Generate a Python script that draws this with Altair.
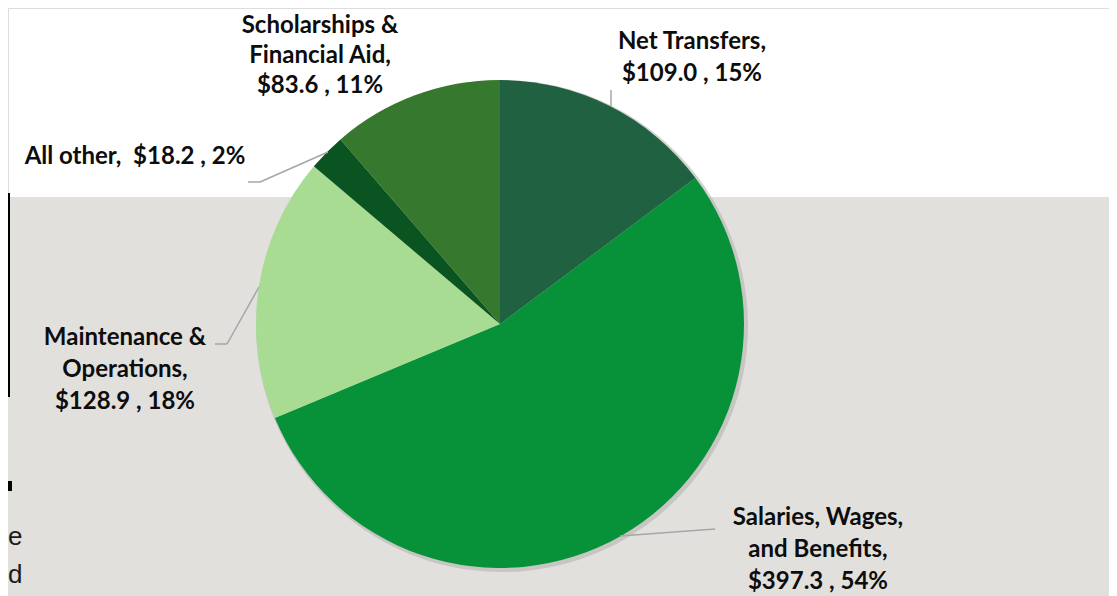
import altair as alt
import pandas as pd

categories = ["Net Transfers", "Salaries, Wages, and Benefits", "Maintenance & Operations",
              "All other", "Scholarships & Financial Aid"]
values = [109.0, 397.3, 128.9, 18.2, 83.6]
percents = ["15%", "54%", "18%", "2%", "11%"]
colors = ["#1F6140", "#07923A", "#A9DC93", "#0A5422", "#36792E"]
label_lines = [
    ["Net Transfers,", "$109.0 , 15%"],
    ["Salaries, Wages,", "and Benefits,", "$397.3 , 54%"],
    ["Maintenance &", "Operations,", "$128.9 , 18%"],
    ["All other,\u00a0\u00a0$18.2 , 2%"],
    ["Scholarships &", "Financial Aid,", "$83.6 , 11%"],
]

df = pd.DataFrame({
    "category": categories,
    "value": values,
    "pct": percents,
    "order": list(range(len(categories))),
    "label": label_lines,
})

W, H = 1101, 588
CX, CY, R = 492, 316, 244
FONT = "Lato"

base = alt.Chart(df)
one = alt.Chart(df.head(1))

bg = one.mark_rect(color="#E1E0DD").encode(
    x=alt.value(0), x2=alt.value(1104), y=alt.value(189), y2=alt.value(H)
)
edge_line = one.mark_rect(color="#000000").encode(
    x=alt.value(0), x2=alt.value(2), y=alt.value(185), y2=alt.value(389)
)
edge_sq = one.mark_rect(color="#000000").encode(
    x=alt.value(0), x2=alt.value(4), y=alt.value(473), y2=alt.value(483)
)

shadow = base.mark_arc(outerRadius=R + 2, color="#B5B4B1", opacity=0.6).encode(
    theta=alt.Theta("value:Q", stack=True),
    order=alt.Order("order:O"),
    x=alt.value(CX + 2), y=alt.value(CY + 2),
)

pie = base.mark_arc(outerRadius=R).encode(
    theta=alt.Theta("value:Q", stack=True),
    order=alt.Order("order:O"),
    color=alt.Color("category:N", scale=alt.Scale(domain=categories, range=colors), legend=None),
    x=alt.value(CX), y=alt.value(CY),
)

def seg(x1, y1, x2, y2):
    return one.mark_rule(color="#A6A6A6", strokeWidth=1.5).encode(
        x=alt.value(x1), y=alt.value(y1), x2=alt.value(x2), y2=alt.value(y2)
    )

leaders = [
    seg(603, 82, 603, 98),
    seg(612, 528, 707, 521),
    seg(251, 279, 219, 336), seg(219, 336, 207, 336),
    seg(320, 144, 252, 174), seg(252, 174, 240, 174),
]

# x: centre of the label block, y: centre of its first line
label_pos = {
    "Net Transfers": (684, 34),
    "Salaries, Wages, and Benefits": (810, 510),
    "Maintenance & Operations": (117, 330),
    "All other": (127, 149),
    "Scholarships & Financial Aid": (312, 18),
}

labels = []
for cat in categories:
    x, y = label_pos[cat]
    labels.append(
        base.transform_filter(alt.datum.category == cat).mark_text(
            font=FONT, fontSize=24, fontWeight="bold", color="#0D0D0D",
            align="center", baseline="middle",
            lineHeight=30.0 if cat.startswith("Scholarships") else 31.8,
        ).encode(x=alt.value(x), y=alt.value(y), text="label")
    )

frag = []
for t, y in [("e", 529), ("d", 567)]:
    frag.append(one.mark_text(
        font="Liberation Sans", fontSize=26, color="#1A1A1A", align="left", baseline="middle"
    ).encode(x=alt.value(0), y=alt.value(y), text=alt.value(t)))

chart = alt.layer(bg, edge_line, edge_sq, shadow, pie, *leaders, *labels, *frag).properties(
    width=W, height=H,
    autosize=alt.AutoSizeParams(type="none"),
    padding=0,
).configure_view(stroke=None, strokeWidth=0).configure(background="white")

chart.save("out.html", embed_options={"renderer": "svg", "actions": False})
